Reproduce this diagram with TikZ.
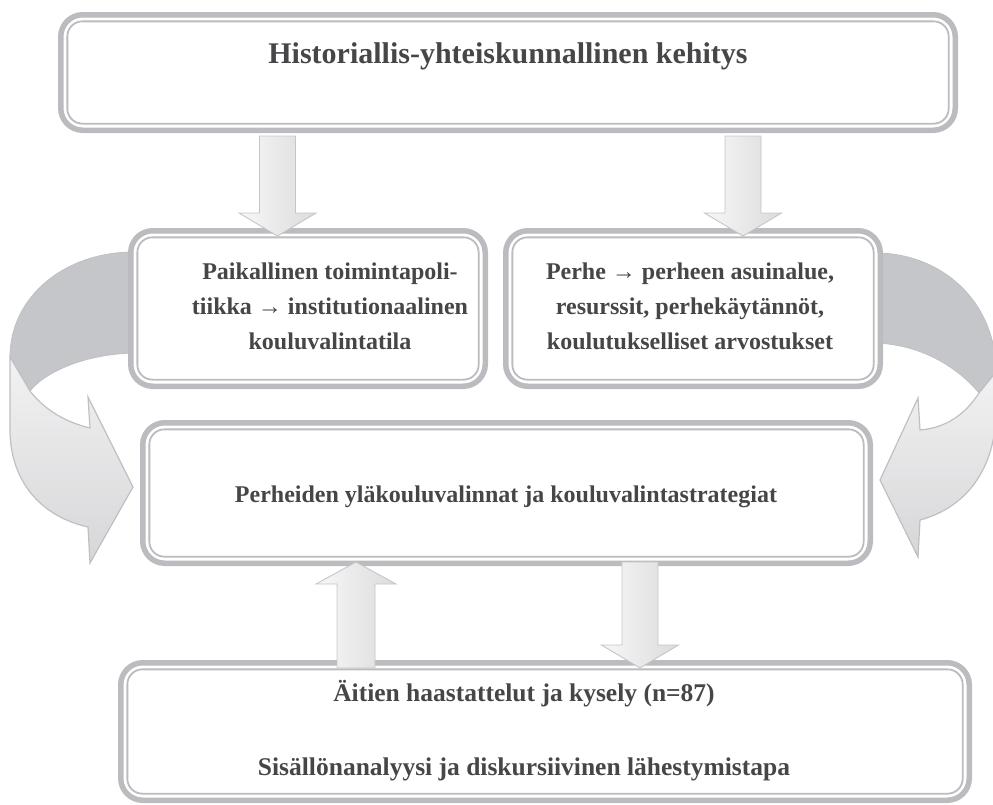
\documentclass[tikz,border=0pt]{standalone}
\usepackage{fontspec}
\setmainfont{Liberation Serif}
\usetikzlibrary{positioning}

\definecolor{frameline}{HTML}{BBBCBF}
\definecolor{ink}{HTML}{464648}
\definecolor{backband}{HTML}{C5C6C9}
\definecolor{frontband}{HTML}{E9E9EB}
\definecolor{bandedge}{HTML}{BFC0C3}
\definecolor{shaftedge}{HTML}{C4C5C8}

% block arrows: x, start, tip
\newcommand{\blockdown}[3]{%
  \draw[blockarrow] (#1-18,#2) -- (#1+18,#2) -- (#1+18,#3-23) -- (#1+38.5,#3-23)
    -- (#1,#3) -- (#1-38.5,#3-23) -- (#1-18,#3-23) -- cycle;}
\newcommand{\blockup}[3]{%
  \draw[blockarrow] (#1-19,#2) -- (#1+19,#2) -- (#1+19,#3+22) -- (#1+40,#3+22)
    -- (#1,#3) -- (#1-40,#3+22) -- (#1-19,#3+22) -- cycle;}

\begin{document}
\begin{tikzpicture}[x=1pt,y=-1pt,
  frame/.style={rectangle,draw=frameline,line width=5.5pt,rounded corners=22pt,
    fill=white,inner sep=0pt,
    path picture={\draw[frameline,line width=1.8pt,rounded corners=15pt]
      ([xshift=6.6pt,yshift=-6.6pt]path picture bounding box.north west) rectangle
      ([xshift=-6.6pt,yshift=6.6pt]path picture bounding box.south east);}},
  caption/.style={text=ink,font=\bfseries\fontsize{24}{35}\selectfont,align=center},
  backband/.style={fill=backband,draw=bandedge,line width=0.8pt},
  frontband/.style={top color=frontband!60!white,bottom color=frontband!92!black,
    draw=bandedge,line width=1.2pt},
  blockarrow/.style={left color=black!3,right color=black!14,draw=shaftedge,
    line width=0.9pt}]

  \useasboundingbox (0,0) rectangle (993,804);
  \clip (0,0) rectangle (993,804);

  % curved arrows behind the boxes
  \path[backband] (134,252) .. controls (63,252) and (10,298) .. (10,357)
    -- (30,391) .. controls (45,372) and (85,354) .. (134,353) -- cycle;
  \path[frontband] (10,357) -- (30,391) .. controls (45,410) and (65,422) .. (90,428)
    -- (88,397) -- (133,487) -- (90,563) -- (88,527)
    .. controls (35,515) and (10,475) .. (10,430) -- cycle;

  \path[backband] (876,253) .. controls (940,253) and (996,300) .. (996,372)
    -- (979,393) .. controls (960,370) and (925,345) .. (876,343) -- cycle;
  \path[frontband] (996,372) -- (979,393) .. controls (965,415) and (945,428) .. (920,430)
    -- (918,398) -- (880,480) -- (918,557) -- (920,520)
    .. controls (965,508) and (996,470) .. (996,410) -- cycle;

  % boxes
  \node[frame,minimum width=894.5,minimum height=115.5] (hist) at (508,72.5) {};
  \node[frame,minimum width=354.5,minimum height=155.5] (policy) at (308,308.5) {};
  \node[frame,minimum width=374.5,minimum height=155.5] (family) at (693,308.5) {};
  \node[frame,minimum width=727.5,minimum height=140.5] (choice) at (506.5,493) {};
  \node[frame,minimum width=848.5,minimum height=137.5] (data) at (545,731.5) {};

  \node[caption,font=\bfseries\fontsize{30}{35}\selectfont,anchor=base] (histtext)
    at (508,63) {Historiallis-yhteiskunnallinen kehitys};
  \node[caption] (policytext) at (330,306)
    {Paikallinen toimintapoli-\\tiikka → institutionaalinen\\kouluvalintatila};
  \node[caption] (familytext) at (690,306)
    {Perhe → perheen asuinalue,\\resurssit, perhekäytännöt,\\koulutukselliset arvostukset};
  \node[caption,anchor=base] (choicetext) at (506,502)
    {Perheiden yläkouluvalinnat ja kouluvalintastrategiat};
  \node[caption,font=\bfseries\fontsize{25.5}{35}\selectfont,anchor=base] (datatop)
    at (524,701) {Äitien haastattelut ja kysely (n=87)};
  \node[caption,font=\bfseries\fontsize{25.5}{35}\selectfont,anchor=base] (databottom)
    at (524,775) {Sisällönanalyysi ja diskursiivinen lähestymistapa};

  % block arrows between the boxes
  \blockdown{277.5}{136}{236}
  \blockdown{743}{136}{236}
  \blockup{356}{668}{562}
  \blockdown{640}{562}{668}
\end{tikzpicture}
\end{document}
